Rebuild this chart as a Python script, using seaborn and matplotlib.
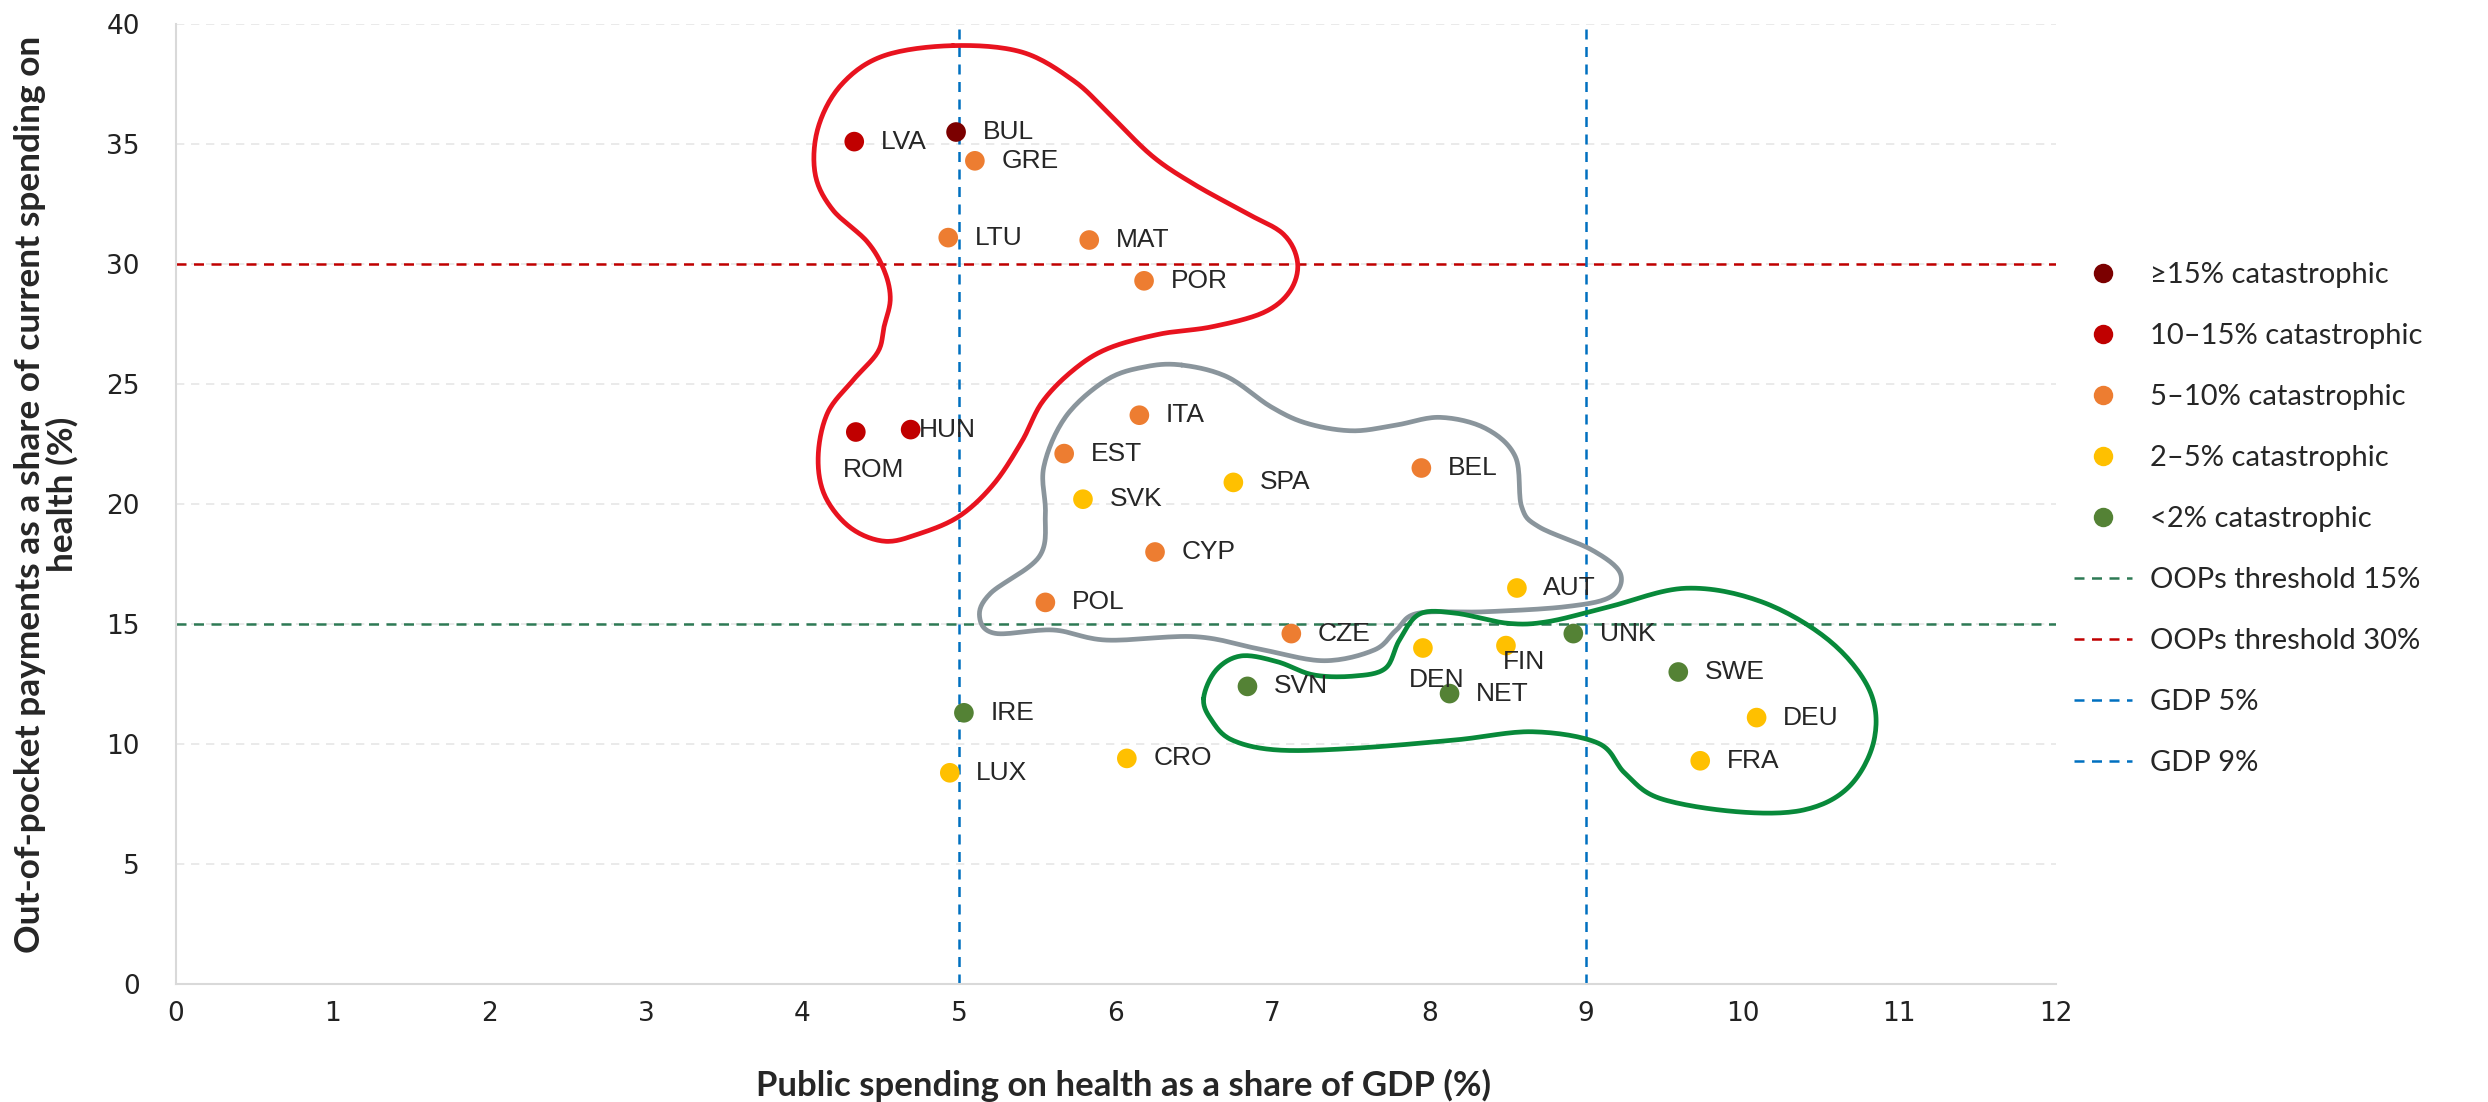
import numpy as np
import pandas as pd
import matplotlib
matplotlib.use('Agg')
import matplotlib.pyplot as plt
import seaborn as sns
from matplotlib.lines import Line2D

# data
countries = ['LVA', 'BUL', 'GRE', 'LTU', 'MAT', 'POR', 'ROM', 'HUN', 'ITA', 'EST',
             'BEL', 'SPA', 'SVK', 'CYP', 'AUT', 'POL', 'CZE', 'DEN', 'FIN', 'UNK',
             'SVN', 'NET', 'SWE', 'IRE', 'DEU', 'FRA', 'CRO', 'LUX']
public_gdp = [4.33, 4.98, 5.10, 4.93, 5.83, 6.18, 4.34, 4.69, 6.15, 5.67,
              7.95, 6.75, 5.79, 6.25, 8.56, 5.55, 7.12, 7.96, 8.49, 8.92,
              6.84, 8.13, 9.59, 5.03, 10.09, 9.73, 6.07, 4.94]
oop_share = [35.1, 35.5, 34.3, 31.1, 31.0, 29.3, 23.0, 23.1, 23.7, 22.1,
             21.5, 20.9, 20.2, 18.0, 16.5, 15.9, 14.6, 14.0, 14.1, 14.6,
             12.4, 12.1, 13.0, 11.3, 11.1, 9.3, 9.4, 8.8]
groups = ['10–15% catastrophic', '≥15% catastrophic', '5–10% catastrophic', '5–10% catastrophic',
          '5–10% catastrophic', '5–10% catastrophic', '10–15% catastrophic', '10–15% catastrophic',
          '5–10% catastrophic', '5–10% catastrophic', '5–10% catastrophic', '2–5% catastrophic',
          '2–5% catastrophic', '5–10% catastrophic', '2–5% catastrophic', '5–10% catastrophic',
          '5–10% catastrophic', '2–5% catastrophic', '2–5% catastrophic', '<2% catastrophic',
          '<2% catastrophic', '<2% catastrophic', '<2% catastrophic', '<2% catastrophic',
          '2–5% catastrophic', '2–5% catastrophic', '2–5% catastrophic', '2–5% catastrophic']
group_order = ['≥15% catastrophic', '10–15% catastrophic', '5–10% catastrophic',
               '2–5% catastrophic', '<2% catastrophic']
group_colors = ['#7B0000', '#C00000', '#ED7D31', '#FFC000', '#548235']

oop_thresholds = [15, 30]
gdp_thresholds = [5, 9]

# hand-drawn cluster outlines (approximate, in data units)
red_x = [4.96, 5.40, 5.73, 5.95, 6.23, 6.50, 6.83, 7.07, 7.16, 7.11, 6.94, 6.61, 6.28, 5.95,
         5.73, 5.53, 5.40, 5.22, 5.00, 4.74, 4.52, 4.30, 4.14, 4.10, 4.16, 4.32, 4.48, 4.52,
         4.56, 4.52, 4.41, 4.19, 4.08, 4.10, 4.25, 4.52]
red_y = [39.10, 38.83, 37.64, 36.30, 34.51, 33.32, 32.13, 31.24, 30.05, 28.86, 27.97, 27.38,
         27.08, 26.48, 25.59, 24.25, 22.61, 20.83, 19.49, 18.75, 18.45, 19.04, 20.38, 22.02,
         23.80, 25.14, 26.33, 27.38, 28.56, 29.75, 30.95, 32.28, 33.77, 35.70, 37.49, 38.68]
gray_x = [6.42, 6.71, 6.99, 7.22, 7.51, 7.79, 8.07, 8.36, 8.55, 8.59, 8.70, 9.04, 9.22, 9.16,
          8.87, 8.36, 7.93, 7.79, 7.65, 7.33, 6.94, 6.51, 5.94, 5.60, 5.23, 5.13, 5.20, 5.51,
          5.55, 5.54, 5.68, 5.94, 6.19]
gray_y = [25.79, 25.30, 24.05, 23.36, 23.05, 23.29, 23.61, 23.15, 21.97, 19.89, 19.05, 18.08,
          17.11, 16.14, 15.72, 15.51, 15.45, 14.75, 13.92, 13.47, 13.92, 14.47, 14.33, 14.75,
          14.61, 15.30, 16.28, 17.80, 19.61, 21.55, 23.64, 25.17, 25.72]
green_x = [6.56, 6.64, 6.80, 7.03, 7.26, 7.52, 7.72, 7.81, 7.94, 8.17, 8.50, 8.76, 9.15, 9.64,
           10.12, 10.55, 10.81, 10.84, 10.68, 10.39, 9.96, 9.47, 9.25, 9.08, 8.66, 8.17, 7.52,
           7.03, 6.74, 6.61]
green_y = [11.90, 13.08, 13.67, 13.43, 12.88, 12.83, 13.15, 14.33, 15.42, 15.45, 15.03, 15.10,
           15.72, 16.49, 15.93, 14.33, 12.25, 10.17, 8.22, 7.25, 7.18, 7.74, 8.78, 10.03, 10.51,
           10.17, 9.82, 9.75, 10.17, 11.00]

df = pd.DataFrame({'country': countries, 'gdp': public_gdp, 'oop': oop_share, 'group': groups})


def smooth_closed(xs, ys, n=16):
    # Catmull-Rom through the outline vertices
    p = np.column_stack([xs, ys])
    m = len(p)
    t = np.linspace(0, 1, n, endpoint=False)[:, None]
    parts = []
    for i in range(m):
        p0, p1, p2, p3 = p[i - 1], p[i], p[(i + 1) % m], p[(i + 2) % m]
        parts.append(0.5 * (2 * p1 + (-p0 + p2) * t + (2 * p0 - 5 * p1 + 4 * p2 - p3) * t ** 2
                            + (-p0 + 3 * p1 - 3 * p2 + p3) * t ** 3))
    parts.append(p[:1])
    return np.vstack(parts)


sns.set_theme(style='white')
plt.rcParams['font.family'] = ['Lato', 'DejaVu Sans']

fig = plt.figure(figsize=(24.88, 11.02), dpi=100)
ax = fig.add_axes([0.0707, 0.1071, 0.7556, 0.8711])

# outlines
for xs, ys, col in [(red_x, red_y, '#E8131F'), (gray_x, gray_y, '#8A959C'), (green_x, green_y, '#08893A')]:
    c = smooth_closed(xs, ys)
    ax.plot(c[:, 0], c[:, 1], color=col, lw=3.4, zorder=2, solid_capstyle='round')

# reference lines
ax.axhline(oop_thresholds[0], color='#2E7A55', ls=(0, (4, 3)), lw=1.8, zorder=1, label='OOPs threshold 15%')
ax.axhline(oop_thresholds[1], color='#C00000', ls=(0, (4, 3)), lw=1.8, zorder=1, label='OOPs threshold 30%')
ax.axvline(gdp_thresholds[0], color='#0070C0', ls=(0, (4, 3)), lw=1.8, zorder=1, label='GDP 5%')
ax.axvline(gdp_thresholds[1], color='#0070C0', ls=(0, (4, 3)), lw=1.8, zorder=1, label='GDP 9%')

sns.scatterplot(data=df, x='gdp', y='oop', hue='group', hue_order=group_order,
                palette=dict(zip(group_order, group_colors)), s=200, linewidth=0,
                legend=False, zorder=3, ax=ax)

# country labels
label_offsets = {'ROM': (-9, -27), 'DEN': (-10, -23), 'FIN': (-2, -12), 'HUN': (6, 0)}
for name, x, y in zip(countries, public_gdp, oop_share):
    dx, dy = label_offsets.get(name, (19, 0))
    ax.annotate(name, (x, y), xytext=(dx, dy), textcoords='offset points',
                ha='left', va='center', fontsize=19, family=['Liberation Sans'], zorder=4)

ax.set_xlim(0, 12)
ax.set_ylim(0, 40)
ax.set_xticks(range(0, 13))
ax.set_yticks(range(0, 41, 5))
ax.tick_params(axis='both', length=0, labelsize=19, labelcolor='#222222')
ax.tick_params(axis='y', pad=26)
ax.tick_params(axis='x', pad=12)
for lab in ax.get_xticklabels() + ax.get_yticklabels():
    lab.set_family(['DejaVu Sans'])
ax.yaxis.grid(True, color='#E6E6E6', ls=(0, (5, 4)), lw=1.2)
ax.set_axisbelow(True)
for side in ['top', 'right']:
    ax.spines[side].set_visible(False)
for side in ['left', 'bottom']:
    ax.spines[side].set_color('#D9D9D9')
    ax.spines[side].set_linewidth(1.5)

ax.set_xlabel('Public spending on health as a share of GDP (%)', fontsize=25, fontweight='bold')
ax.set_ylabel('Out-of-pocket payments as a share of current spending on\nhealth (%)',
              fontsize=22, fontweight='bold', linespacing=1.0)
ax.xaxis.set_label_coords(0.504, -0.088)
ax.yaxis.set_label_coords(-0.052, 0.51)

# shrink the y label so it spans the same height as in the source (~915 px)
fig.canvas.draw()
bb = ax.yaxis.label.get_window_extent(fig.canvas.get_renderer())
ax.yaxis.label.set_fontsize(22 * 915 / bb.height)

# legend
handles = [Line2D([], [], marker='o', ls='none', markersize=14, markerfacecolor=c, markeredgewidth=0)
           for c in group_colors]
line_h, line_l = ax.get_legend_handles_labels()
fig.legend(handles + line_h, group_order + line_l, loc='upper left', bbox_to_anchor=(0.823, 0.786),
           frameon=False, fontsize=21, labelspacing=1.2, handlelength=2.0, handletextpad=0.6)

fig.savefig('out.png', dpi=100)
